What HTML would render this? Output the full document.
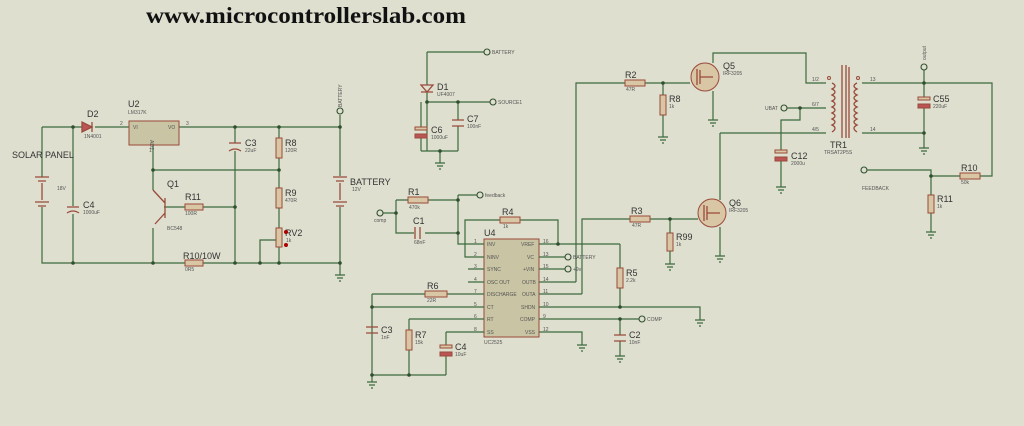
<!DOCTYPE html>
<html><head><style>
body{margin:0;background:#dedfcf;}
svg{display:block}
.w{stroke:#3d6b3d;stroke-width:1.2;fill:none}
.r{stroke:#9a4a3a;stroke-width:1;fill:#d8c6a4}
.c{stroke:#9a4a3a;stroke-width:1.3;fill:none}
.t{font-family:"Liberation Sans",sans-serif;fill:#333;font-size:9px}
.s{font-family:"Liberation Sans",sans-serif;fill:#555;font-size:5px}
.d{fill:#2f4f2f}
.term{stroke:#2f4f2f;stroke-width:1.1;fill:#dedfcf}
</style></head><body>
<svg width="1024" height="426" viewBox="0 0 1024 426">
<text x="146" y="23" font-family="Liberation Serif,serif" font-weight="bold" font-size="23" textLength="320" lengthAdjust="spacingAndGlyphs" fill="#111">www.microcontrollerslab.com</text>

<g class="w">
<path d="M42 127H82M95 127H129M179 127H340V263H42V127"/>
<path d="M73 127V207M73 213V263"/>
<path d="M153 145V190M153 170H279M153 228V263"/>
<path d="M164 207H185M203 207H235"/>
<path d="M235 127V143M235 151V263"/>
<path d="M279 127V138M279 158V188M279 208V228M279 247V263"/>
<path d="M260 263V240H276"/>
<path d="M340 115V127M340 263V275"/>
<path d="M335 275H345M337 278H343M339 281H341"/>
</g>
<g class="c"><path d="M82 122L82 132L92 127Z" fill="#b55"/><path d="M92 122V132"/></g>
<rect x="129" y="121" width="50" height="24" fill="#c9c4a3" stroke="#9a4a3a"/>
<text class="s" x="133" y="129">VI</text><text class="s" x="168" y="129">VO</text><text class="s" x="150" y="140" transform="rotate(90 150 140)">ADJ</text>
<text class="t" x="128" y="107">U2</text><text class="s" x="128" y="114">LM317K</text>
<text class="s" x="120" y="125">2</text><text class="s" x="186" y="125">3</text><text class="s" x="149" y="152">1</text>
<text class="t" x="87" y="117">D2</text><text class="s" x="84" y="138">1N4001</text>
<rect x="36" y="177" width="12" height="30" fill="#dedfcf"/>
<g class="c"><path d="M35 177H49M38 181H46M42 183V200M35 202H49M38 206H46"/></g>
<text class="t" x="12" y="158">SOLAR PANEL</text><text class="s" x="57" y="190">18V</text>
<rect x="66" y="206" width="14" height="8" fill="#dedfcf"/>
<g class="c"><path d="M67 207H79M67 213Q73 209 79 213"/></g>
<text class="t" x="83" y="208">C4</text><text class="s" x="83" y="214">1000uF</text>
<g class="c"><path d="M165 198V218M165 203L153 190M165 213L155 224"/></g>
<text class="t" x="167" y="187">Q1</text><text class="s" x="167" y="230">BC548</text>
<rect class="r" x="185" y="204" width="18" height="6"/><text class="t" x="185" y="200">R11</text><text class="s" x="185" y="215">100R</text>
<g class="c"><path d="M229 143H241M229 151Q235 147 241 151"/></g>
<text class="t" x="245" y="146">C3</text><text class="s" x="245" y="152">22uF</text>
<rect class="r" x="276" y="138" width="6" height="20"/><text class="t" x="285" y="146">R8</text><text class="s" x="285" y="152">120R</text>
<rect class="r" x="276" y="188" width="6" height="20"/><text class="t" x="285" y="196">R9</text><text class="s" x="285" y="202">470R</text>
<rect class="r" x="276" y="228" width="6" height="19"/><text class="t" x="285" y="236">RV2</text><text class="s" x="286" y="242">1k</text>
<circle cx="286" cy="232" r="2" fill="#a00"/><circle cx="286" cy="245" r="2" fill="#a00"/>
<rect class="r" x="185" y="260" width="18" height="6"/><text class="t" x="183" y="259">R10/10W</text><text class="s" x="185" y="271">0R5</text>
<rect x="334" y="176" width="12" height="31" fill="#dedfcf"/>
<g class="c"><path d="M333 177H347M336 181H344M340 183V200M333 202H347M336 206H344"/></g>
<text class="t" x="350" y="185">BATTERY</text><text class="s" x="352" y="191">12V</text>
<circle class="term" cx="340" cy="111" r="3"/><text class="s" x="342" y="107" transform="rotate(-90 342 107)">BATTERY</text>
<g class="d"><circle cx="73" cy="127" r="1.8"/><circle cx="73" cy="263" r="1.8"/><circle cx="235" cy="127" r="1.8"/><circle cx="279" cy="127" r="1.8"/><circle cx="153" cy="170" r="1.8"/><circle cx="279" cy="170" r="1.8"/><circle cx="235" cy="207" r="1.8"/><circle cx="153" cy="263" r="1.8"/><circle cx="235" cy="263" r="1.8"/><circle cx="260" cy="263" r="1.8"/><circle cx="279" cy="263" r="1.8"/><circle cx="340" cy="127" r="1.8"/><circle cx="340" cy="263" r="1.8"/></g>

<g class="w"><path d="M427 52H484M427 52V85M427 92V151M427 102H490M458 102V120M458 126V151M421 102V128M421 138V151M421 151H458M440 151V163M435 163H445M437 166H443M439 169H441"/></g>
<g class="c"><path d="M421 85H433L427 92ZM421 92H433"/><path d="M452 120H464M452 126H464"/></g>
<rect x="415" y="127" width="12" height="3" fill="#d8c6a4" stroke="#9a4a3a"/><rect x="415" y="134" width="12" height="4" fill="#b55" stroke="#9a4a3a"/>
<circle class="term" cx="487" cy="52" r="3"/><text class="s" x="492" y="54">BATTERY</text>
<circle class="term" cx="493" cy="102" r="3"/><text class="s" x="498" y="104">SOURCE1</text>
<text class="t" x="437" y="90">D1</text><text class="s" x="437" y="96">UF4007</text>
<text class="t" x="467" y="122">C7</text><text class="s" x="467" y="128">100nF</text>
<text class="t" x="431" y="133">C6</text><text class="s" x="431" y="139">1000uF</text>
<g class="d"><circle cx="427" cy="102" r="1.8"/><circle cx="458" cy="102" r="1.8"/><circle cx="440" cy="151" r="1.8"/></g>

<rect x="484" y="239" width="55" height="98" fill="#c9c4a3" stroke="#9a4a3a"/>
<text class="t" x="484" y="236">U4</text><text class="s" x="484" y="344">UC2525</text>
<g class="s">
<text x="487" y="246">INV</text><text x="487" y="259">NINV</text><text x="487" y="271">SYNC</text><text x="487" y="284">OSC OUT</text><text x="487" y="296">DISCHARGE</text><text x="487" y="309">CT</text><text x="487" y="321">RT</text><text x="487" y="334">SS</text>
<text x="521" y="246">VREF</text><text x="527" y="259">VC</text><text x="523" y="271">+VIN</text><text x="522" y="284">OUTB</text><text x="522" y="296">OUTA</text><text x="521" y="309">SHDN</text><text x="520" y="321">COMP</text><text x="525" y="334">VSS</text>
<text x="474" y="243">1</text><text x="474" y="256">2</text><text x="474" y="268">3</text><text x="474" y="281">4</text><text x="474" y="293">7</text><text x="474" y="306">5</text><text x="474" y="318">6</text><text x="474" y="331">8</text>
<text x="543" y="243">16</text><text x="543" y="256">13</text><text x="543" y="268">15</text><text x="543" y="281">14</text><text x="543" y="293">11</text><text x="543" y="306">10</text><text x="543" y="318">9</text><text x="543" y="331">12</text>
</g>
<g class="w">
<path d="M468 244H484M468 257H484M468 269H484M468 282H484M468 294H484M468 307H484M468 319H484M468 332H484"/>
<path d="M539 244H620M539 257H565M539 269H565M539 282H576M539 294H582M539 307H700V320M539 319H639M539 332H582V345"/>
<path d="M383 213H396M396 200V233H415M425 233H458M396 200H408M428 200H458M458 195H477M458 195V244H468"/>
<path d="M468 257H465V220H500M520 220H558V244"/>
<path d="M620 244V268M620 288V307"/>
<path d="M576 282V83H625M645 83H690"/>
<path d="M582 294V219H630M650 219H698"/>
<path d="M372 294H425M447 294H468M372 294V375M372 307H468M372 327V333M409 319H468M409 319V330M409 350V375M446 332H468M446 332V345M446 356V375M372 375H446M372 375V382"/>
<path d="M620 319V335M620 341V356"/>
<path d="M695 320H705M697 323H703M699 326H701M577 345H587M579 348H585M581 351H583M615 356H625M617 359H623M619 362H621M367 382H377M369 385H375M371 388H373"/>
</g>
<rect class="r" x="408" y="197" width="20" height="6"/><text class="t" x="408" y="195">R1</text><text class="s" x="409" y="209">470k</text>
<rect x="414" y="226" width="8" height="14" fill="#dedfcf"/>
<g class="c"><path d="M415 227V239M420 227V239"/></g><text class="t" x="413" y="224">C1</text><text class="s" x="414" y="244">68nF</text>
<circle class="term" cx="380" cy="213" r="3"/><text class="s" x="374" y="222">comp</text>
<circle class="term" cx="480" cy="195" r="3"/><text class="s" x="485" y="197">feedback</text>
<rect class="r" x="500" y="217" width="20" height="6"/><text class="t" x="502" y="215">R4</text><text class="s" x="503" y="228">1k</text>
<circle class="term" cx="568" cy="257" r="3"/><text class="s" x="573" y="259">BATTERY</text>
<circle class="term" cx="568" cy="269" r="3"/><text class="s" x="573" y="271">+9v</text>
<circle class="term" cx="642" cy="319" r="3"/><text class="s" x="647" y="321">COMP</text>
<rect class="r" x="617" y="268" width="6" height="20"/><text class="t" x="626" y="276">R5</text><text class="s" x="626" y="282">2.2k</text>
<rect class="r" x="425" y="291" width="22" height="6"/><text class="t" x="427" y="289">R6</text><text class="s" x="427" y="302">22R</text>
<g class="c"><path d="M366 327H378M366 333H378M614 335H626M614 341H626"/></g>
<text class="t" x="381" y="333">C3</text><text class="s" x="381" y="339">1nF</text>
<text class="t" x="629" y="338">C2</text><text class="s" x="629" y="344">10nF</text>
<rect class="r" x="406" y="330" width="6" height="20"/><text class="t" x="415" y="338">R7</text><text class="s" x="415" y="344">15k</text>
<rect x="440" y="345" width="12" height="3" fill="#d8c6a4" stroke="#9a4a3a"/><rect x="440" y="352" width="12" height="4" fill="#b55" stroke="#9a4a3a"/>
<text class="t" x="455" y="350">C4</text><text class="s" x="455" y="356">10uF</text>
<g class="d"><circle cx="396" cy="213" r="1.8"/><circle cx="458" cy="200" r="1.8"/><circle cx="458" cy="233" r="1.8"/><circle cx="558" cy="244" r="1.8"/><circle cx="620" cy="307" r="1.8"/><circle cx="620" cy="319" r="1.8"/><circle cx="372" cy="307" r="1.8"/><circle cx="372" cy="375" r="1.8"/><circle cx="409" cy="375" r="1.8"/></g>

<rect class="r" x="625" y="80" width="20" height="6"/><text class="t" x="625" y="78">R2</text><text class="s" x="626" y="91">47R</text>
<rect class="r" x="660" y="95" width="6" height="20"/><text class="t" x="669" y="102">R8</text><text class="s" x="669" y="108">1k</text>
<rect class="r" x="630" y="216" width="20" height="6"/><text class="t" x="631" y="214">R3</text><text class="s" x="632" y="227">47R</text>
<rect class="r" x="667" y="233" width="6" height="18"/><text class="t" x="676" y="240">R99</text><text class="s" x="676" y="246">1k</text>
<g class="w">
<path d="M663 83V95M663 115V137M658 137H668M660 140H666M662 143H664"/>
<path d="M670 219V233M670 251V264M665 264H675M667 267H673M669 270H671"/>
<path d="M713 63V53H806V83H826M713 91V120M708 120H718M710 123H716M712 126H714"/>
<path d="M720 133H826M720 133V200M720 227V256M715 256H725M717 259H723M719 262H721"/>
<path d="M787 108H826M800 108V120H781V150M781 158V187M776 187H786M778 190H784M780 193H782"/>
<path d="M862 83H992V176H980M960 176H931V195M931 213V232M926 232H936M928 235H934M930 238H932M867 170H931V176"/>
<path d="M862 133H924M924 83V98M924 107V148M919 148H929M921 151H927M923 154H925M924 70V83"/>
</g>
<circle cx="705" cy="77" r="14" fill="#d8c6a4" stroke="#9a4a3a"/>
<path d="M697 69V85M700 70V84M700 77H713" class="c"/>
<circle cx="712" cy="213" r="14" fill="#d8c6a4" stroke="#9a4a3a"/>
<path d="M704 205V221M707 206V220M707 213H720" class="c"/>
<text class="t" x="723" y="69">Q5</text><text class="s" x="723" y="75">IRF3205</text>
<text class="t" x="729" y="206">Q6</text><text class="s" x="729" y="212">IRF3205</text>
<g class="c">
<path d="M832 83q6 3 0 6q6 3 0 6q6 3 0 6q6 3 0 6q6 3 0 6q6 3 0 6q6 3 0 6q6 3 0 7"/>
<path d="M857 83q-6 3 0 6q-6 3 0 6q-6 3 0 6q-6 3 0 6q-6 3 0 6q-6 3 0 6q-6 3 0 6q-6 3 0 7"/>
<path d="M842 65V138M846 65V138M849 67V138"/>
</g>
<circle cx="829" cy="78" r="1.5" fill="none" stroke="#9a4a3a"/><circle cx="858" cy="78" r="1.5" fill="none" stroke="#9a4a3a"/>
<text class="s" x="812" y="81">1/2</text><text class="s" x="812" y="106">6/7</text><text class="s" x="812" y="131">4/5</text>
<text class="s" x="870" y="81">13</text><text class="s" x="870" y="131">14</text>
<text class="t" x="830" y="148">TR1</text><text class="s" x="824" y="154">TRSAT2P5S</text>
<circle class="term" cx="784" cy="108" r="3"/><text class="s" x="765" y="110">UBAT</text>
<rect x="775" y="150" width="12" height="3" fill="#d8c6a4" stroke="#9a4a3a"/><rect x="775" y="157" width="12" height="4" fill="#b55" stroke="#9a4a3a"/>
<text class="t" x="791" y="159">C12</text><text class="s" x="791" y="165">2000u</text>
<rect x="918" y="97" width="12" height="3" fill="#d8c6a4" stroke="#9a4a3a"/><rect x="918" y="104" width="12" height="4" fill="#b55" stroke="#9a4a3a"/>
<text class="t" x="933" y="102">C55</text><text class="s" x="933" y="108">220uF</text>
<circle class="term" cx="924" cy="67" r="3"/><text class="s" x="926" y="60" transform="rotate(-90 926 60)">output</text>
<circle class="term" cx="864" cy="170" r="3"/><text class="s" x="862" y="190">FEEDBACK</text>
<rect class="r" x="960" y="173" width="20" height="6"/><text class="t" x="961" y="171">R10</text><text class="s" x="961" y="184">50k</text>
<rect class="r" x="928" y="195" width="6" height="18"/><text class="t" x="937" y="202">R11</text><text class="s" x="937" y="208">1k</text>
<g class="d"><circle cx="663" cy="83" r="1.8"/><circle cx="670" cy="219" r="1.8"/><circle cx="800" cy="108" r="1.8"/><circle cx="924" cy="83" r="1.8"/><circle cx="924" cy="133" r="1.8"/><circle cx="931" cy="176" r="1.8"/></g>
</svg>
</body></html>
